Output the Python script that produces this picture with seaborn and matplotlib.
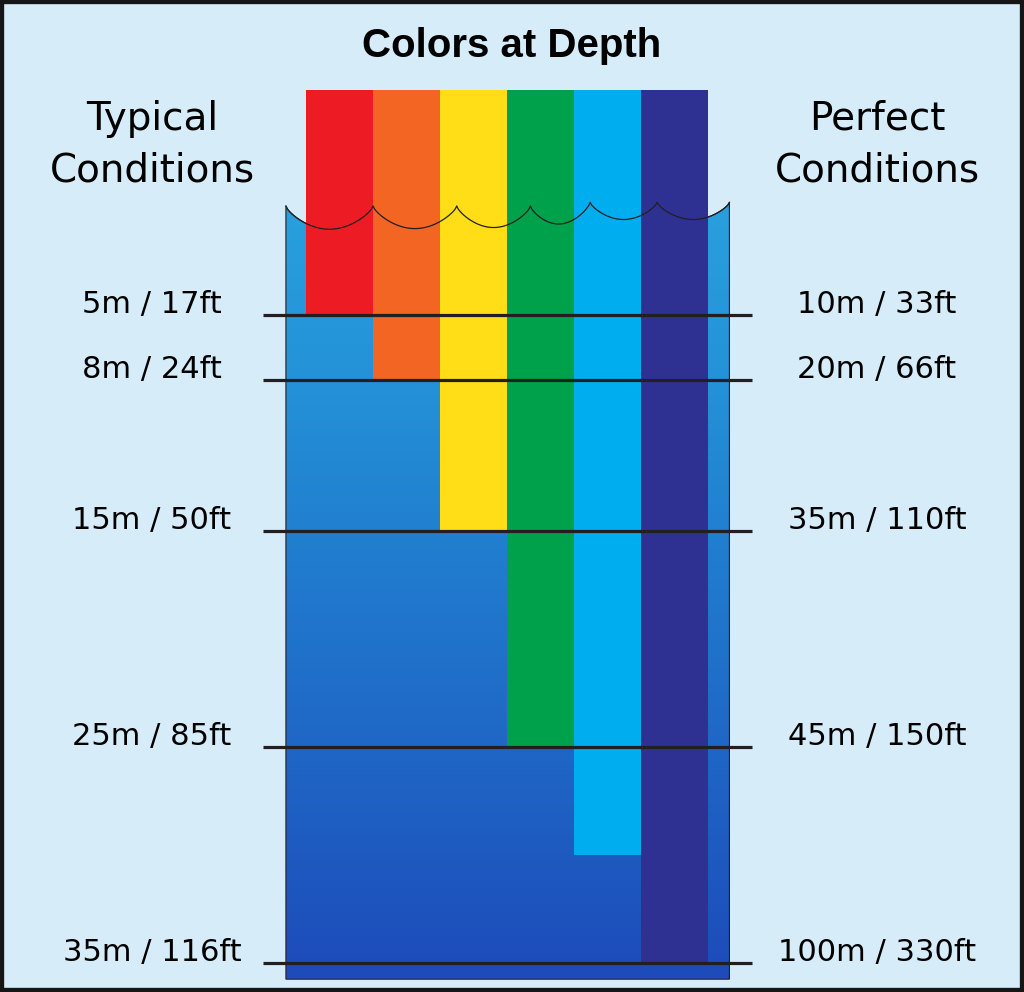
import numpy as np
import pandas as pd
import matplotlib
matplotlib.use("Agg")
import matplotlib.pyplot as plt
import seaborn as sns
from matplotlib import font_manager
from matplotlib.colors import LinearSegmentedColormap
from matplotlib.patches import Polygon, Rectangle

# Colours of the spectrum and the depth (typical conditions, metres) where each fades out
colour_names = ["Red", "Orange", "Yellow", "Green", "Blue", "Indigo"]
colour_hex = ["#ed1c24", "#f26522", "#ffde17", "#00a14b", "#00aeef", "#2e3192"]
lost_depth_m = [5, 8, 15, 25, 30, 35]

# Depth markers: typical conditions on the left, perfect conditions on the right
marker_depth_m = [5, 8, 15, 25, 35]
typical_labels = ["5m / 17ft", "8m / 24ft", "15m / 50ft", "25m / 85ft", "35m / 116ft"]
perfect_labels = ["10m / 33ft", "20m / 66ft", "35m / 110ft", "45m / 150ft", "100m / 330ft"]

bg = "#d6ecf8"
ink = "#231f20"

# layout (x in bar units, y in metres below the surface)
bar_top = -5.4
water_left, water_right, water_bottom = -0.8, 5.82, 35.75
cusp_x = np.array([-0.8, 0.5, 1.75, 2.85, 3.74, 4.74, 5.82])
cusp_y = np.array([-0.05, -0.05, -0.05, -0.05, -0.22, -0.22, -0.22])
sag = np.array([1.08, 1.05, 1.0, 0.92, 0.8, 0.8])


def has_font(name):
    try:
        font_manager.findfont(name, fallback_to_default=False)
        return True
    except ValueError:
        return False


body_font = "DejaVu Sans"
if has_font("Liberation Sans Narrow"):
    title_font, title_size = "Liberation Sans Narrow", 32
else:
    title_font, title_size = "Liberation Sans", 29

W, H = 1024, 992
fig = plt.figure(figsize=(W / 100, H / 100), dpi=100, facecolor=bg)
ax = fig.add_axes([0, 0, 1, 1])
ax.set_facecolor(bg)

# water body with a vertical gradient, top edge follows the wave
wx, wy = [], []
for i in range(len(sag)):
    t = np.linspace(0, 1, 60)
    wx.append(cusp_x[i] + (cusp_x[i + 1] - cusp_x[i]) * t)
    wy.append(cusp_y[i] + (cusp_y[i + 1] - cusp_y[i]) * t + sag[i] * np.sin(np.pi * t) ** 0.7)
wave_x = np.concatenate(wx)
wave_y = np.concatenate(wy)

water_verts = list(zip(wave_x, wave_y)) + [(water_right, water_bottom), (water_left, water_bottom)]
water = Polygon(water_verts, closed=True, facecolor="none", edgecolor=ink, lw=0.8, zorder=1.5)
ax.add_patch(water)

water_cmap = LinearSegmentedColormap.from_list(
    "water", [(0.0, "#29a0de"), (0.23, "#2492d8"), (0.42, "#2180d0"), (0.7, "#1f67c6"), (1.0, "#1d4bba")],
    N=1024,
)
grad = np.linspace(0, 1, 1024).reshape(-1, 1)
im = ax.imshow(grad, extent=[water_left, water_right, water_bottom, -0.3], origin="upper",
               cmap=water_cmap, aspect="auto", zorder=1, interpolation="bilinear")
im.set_clip_path(water)

# colour strips, from above the surface down to where each colour is lost
bars = pd.DataFrame({"colour": colour_names, "lost": lost_depth_m})
bars["height"] = bars["lost"] - bar_top
sns.barplot(data=bars, x="colour", y="height", hue="colour", palette=colour_hex,
            bottom=bar_top, width=1.0, saturation=1, linewidth=0, errorbar=None,
            legend=False, ax=ax, zorder=2)

# wave line over the strips
ax.plot(wave_x, wave_y, color=ink, lw=0.9, zorder=3)

# depth marker lines and labels
ax.hlines(marker_depth_m, -1.142, 6.157, color=ink, lw=2.3, zorder=4)
for d, lt, rt in zip(marker_depth_m, typical_labels, perfect_labels):
    ax.text(-2.8, d - 0.1, lt, ha="center", va="baseline", fontsize=22, family=body_font, color="black")
    ax.text(8.02, d - 0.1, rt, ha="center", va="baseline", fontsize=22, family=body_font, color="black")

ax.set_xlim(-339.5 / 67, (W - 339.5) / 67)
ax.set_ylim((H - 207) / 21.6, -207 / 21.6)
ax.axis("off")

# headings
fig.text(512 / W, 1 - 57 / H, "Colors at Depth", ha="center", va="baseline",
         fontsize=title_size, fontweight="bold", family=title_font)
for cx, lines in [(152, ["Typical", "Conditions"]), (877, ["Perfect", "Conditions"])]:
    for base, line in zip([130, 182], lines):
        fig.text(cx / W, 1 - base / H, line, ha="center", va="baseline", fontsize=28, family=body_font)

# black frame
fig.add_artist(Rectangle((0, 0), 1, 1, transform=fig.transFigure, fill=False,
                         edgecolor="#151515", lw=6, clip_on=False))

fig.savefig("out.png", dpi=100, facecolor=bg)
